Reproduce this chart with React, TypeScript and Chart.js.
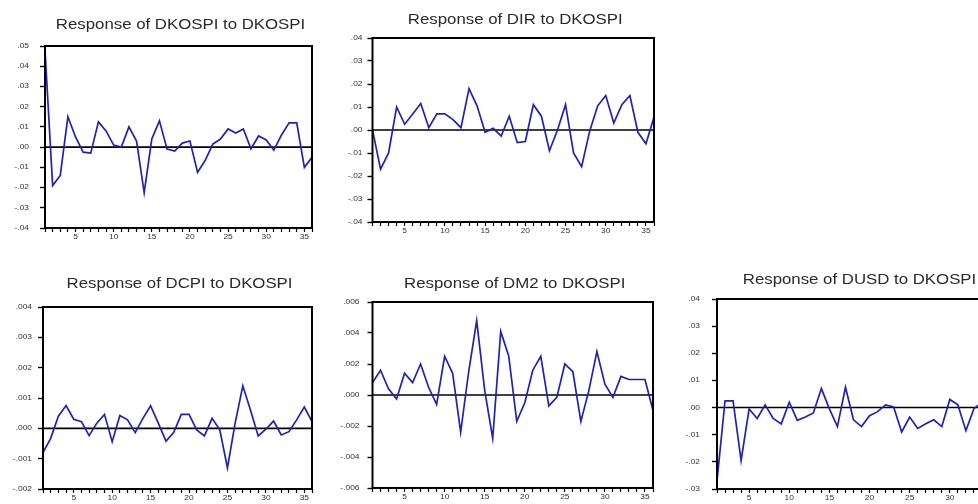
import React, { useEffect, useRef } from 'react';
import { Chart, registerables } from 'chart.js';

Chart.register(...registerables);

// ---- data ----
const periods = [1, 2, 3, 4, 5, 6, 7, 8, 9, 10, 11, 12, 13, 14, 15, 16, 17, 18, 19, 20, 21, 22, 23, 24, 25, 26, 27, 28, 29, 30, 31, 32, 33, 34, 35, 36];
const xLabelTicks = [5, 10, 15, 20, 25, 30, 35];

const dkospi = [0.048, -0.019, -0.014, 0.015, 0.005, -0.0025, -0.003, 0.0125, 0.008, 0.001, 0.0, 0.010, 0.003, -0.0225, 0.004, 0.013, -0.001, -0.002, 0.002, 0.003, -0.0125, -0.0065, 0.0015, 0.004, 0.009, 0.007, 0.009, -0.0008, 0.0055, 0.0035, -0.0015, 0.006, 0.012, 0.012, -0.010, -0.005];
const dir = [0.0, -0.017, -0.010, 0.010, 0.0025, 0.007, 0.0115, 0.001, 0.007, 0.007, 0.0045, 0.001, 0.018, 0.0105, -0.001, 0.0007, -0.0026, 0.006, -0.0055, -0.005, 0.011, 0.006, -0.009, 0.0, 0.011, -0.010, -0.016, -0.0005, 0.0105, 0.015, 0.003, 0.011, 0.015, -0.001, -0.006, 0.0056];
const dcpi = [-0.0008, -0.00033, 0.0004, 0.00075, 0.0003, 0.00022, -0.00024, 0.00017, 0.00046, -0.00044, 0.00042, 0.00028, -0.00014, 0.00033, 0.00074, 0.00017, -0.00042, -0.00014, 0.00046, 0.00046, -0.00005, -0.00025, 0.00033, -0.00005, -0.0013, 0.00017, 0.0014, 0.0006, -0.00025, -0.00003, 0.00024, -0.00022, -0.00011, 0.00028, 0.0007, 0.00022];
const dm2 = [0.0008, 0.0016, 0.0004, -0.00026, 0.0014, 0.0008, 0.002, 0.0005, -0.0006, 0.0025, 0.0014, -0.0024, 0.0015, 0.0048, 0.0003, -0.0028, 0.0041, 0.0025, -0.0017, -0.0005, 0.0016, 0.0025, -0.0007, -0.00015, 0.002, 0.0015, -0.0017, 0.0003, 0.0028, 0.0007, -0.00015, 0.0012, 0.001, 0.001, 0.001, -0.001];
const dusd = [-0.027, 0.0025, 0.0025, -0.0195, -0.0005, -0.004, 0.001, -0.004, -0.006, 0.002, -0.0047, -0.0035, -0.002, 0.007, -0.0005, -0.007, 0.0075, -0.0045, -0.007, -0.003, -0.0015, 0.001, 0.0002, -0.009, -0.0035, -0.0077, -0.006, -0.0045, -0.007, 0.003, 0.001, -0.0085, -0.0004, 0.002, 0.002, 0.001];

const titles = [
  'Response of DKOSPI to DKOSPI',
  'Response of DIR to DKOSPI',
  'Response of DCPI to DKOSPI',
  'Response of DM2 to DKOSPI',
  'Response of DUSD to DKOSPI',
];

// ---- layout (pixels on page) ----
type Panel = {
  title: string;
  values: number[];
  yMin: number;
  yMax: number;
  yStep: number;
  decimals: number;
  L: number;
  T: number;
  R: number;
  B: number;
  titleBase: number;
  yGap: number;
};

const panels: Panel[] = [
  { title: titles[0], values: dkospi, yMin: -0.04, yMax: 0.05, yStep: 0.01, decimals: 2, L: 45, T: 46, R: 312, B: 228, titleBase: 28.5, yGap: 16 },
  { title: titles[1], values: dir, yMin: -0.04, yMax: 0.04, yStep: 0.01, decimals: 2, L: 372.5, T: 38, R: 654, B: 222, titleBase: 23.7, yGap: 10 },
  { title: titles[2], values: dcpi, yMin: -0.002, yMax: 0.004, yStep: 0.001, decimals: 3, L: 43, T: 307, R: 312, B: 489, titleBase: 288, yGap: 11 },
  { title: titles[3], values: dm2, yMin: -0.006, yMax: 0.006, yStep: 0.002, decimals: 3, L: 372.5, T: 302, R: 653, B: 488, titleBase: 288, yGap: 13 },
  { title: titles[4], values: dusd, yMin: -0.03, yMax: 0.04, yStep: 0.01, decimals: 2, L: 717, T: 299, R: 998, B: 489, titleBase: 283.5, yGap: 17 },
];

const AXIS_W = 45;
const XAXIS_H = 18;
const PAD_R = 12;
const FONT = "'Liberation Sans', Arial, sans-serif";

const fmt = (v: number, d: number) => {
  let s = Number(v).toFixed(d);
  if (Math.abs(Number(v)) < 1e-12) s = (0).toFixed(d);
  return s.replace('0.', '.');
};

const framePlugin = {
  id: 'frame',
  beforeDatasetsDraw(chart: any) {
    const { ctx, chartArea: a, scales } = chart;
    const y0 = scales.y.getPixelForValue(0);
    ctx.save();
    ctx.strokeStyle = '#000';
    ctx.lineWidth = 1.6;
    ctx.beginPath();
    ctx.moveTo(a.left, y0);
    ctx.lineTo(a.right, y0);
    ctx.stroke();
    ctx.restore();
  },
  afterDatasetsDraw(chart: any) {
    const { ctx, chartArea: a } = chart;
    ctx.save();
    ctx.strokeStyle = '#000';
    ctx.lineWidth = 2;
    ctx.strokeRect(a.left, a.top, a.right - a.left, a.bottom - a.top);
    ctx.restore();
  },
};

const textPlugin = {
  id: 'panelText',
  afterDraw(chart: any, _args: any, opts: any) {
    const { ctx, chartArea: a, scales } = chart;
    ctx.save();
    // title
    ctx.font = `14px ${FONT}`;
    ctx.fillStyle = '#2a2a2a';
    ctx.textAlign = 'center';
    ctx.textBaseline = 'alphabetic';
    ctx.save();
    ctx.translate(opts.titleX, opts.titleY);
    ctx.scale(1.2, 1);
    ctx.fillText(opts.text, 0, 0);
    ctx.restore();

    // y tick labels
    ctx.font = `7px ${FONT}`;
    ctx.fillStyle = '#333';
    ctx.textAlign = 'right';
    ctx.textBaseline = 'middle';
    for (const t of scales.y.ticks) {
      const y = scales.y.getPixelForValue(t.value);
      ctx.save();
      ctx.translate(a.left - opts.yGap, y);
      ctx.scale(1.2, 1);
      ctx.fillText(fmt(t.value, opts.decimals), 0, 0);
      ctx.restore();
    }
    // x tick labels
    ctx.textAlign = 'center';
    ctx.textBaseline = 'top';
    for (const t of scales.x.ticks) {
      if (!xLabelTicks.includes(Number(t.value))) continue;
      const x = scales.x.getPixelForValue(t.value);
      ctx.save();
      ctx.translate(x, a.bottom + 6);
      ctx.scale(1.2, 1);
      ctx.fillText(String(t.value), 0, 0);
      ctx.restore();
    }
    ctx.restore();
  },
};

function PanelChart({ p }: { p: Panel }) {
  const ref = useRef<HTMLCanvasElement | null>(null);
  const left = Math.floor(p.L - AXIS_W);
  const top = Math.floor(p.titleBase - 14);
  const width = Math.ceil(p.R - left + PAD_R);
  const height = Math.ceil(p.B - top + XAXIS_H);

  useEffect(() => {
    if (!ref.current) return;
    const chart = new Chart(ref.current, {
      type: 'line',
      data: {
        datasets: [
          {
            data: periods.map((x, i) => ({ x, y: p.values[i] })),
            borderColor: '#2222b0',
            borderWidth: 1.7,
            pointRadius: 0,
            tension: 0,
            fill: false,
          },
        ],
      },
      options: {
        animation: false,
        responsive: false,
        devicePixelRatio: 1,
        layout: { padding: { left: 0, top: p.T - top, right: width - (p.R - left), bottom: 0 } },
        plugins: {
          legend: { display: false },
          tooltip: { enabled: false },
          title: { display: false },
          panelText: {
            text: p.title,
            titleX: (p.L + p.R) / 2 + 2 - left,
            titleY: p.titleBase - top,
            yGap: p.yGap,
            decimals: p.decimals,
          },
        } as any,
        scales: {
          x: {
            type: 'linear',
            min: 1,
            max: 36,
            afterFit: (s: any) => {
              s.height = height - (p.B - top);
            },
            ticks: {
              stepSize: 1,
              autoSkip: false,
              maxRotation: 0,
              display: false,
            },
            grid: {
              drawOnChartArea: false,
              drawTicks: true,
              tickLength: 4,
              color: '#000',
              tickWidth: 1.2,
            },
            border: { display: false },
          },
          y: {
            type: 'linear',
            min: p.yMin,
            max: p.yMax,
            afterFit: (s: any) => {
              s.width = p.L - left;
            },
            ticks: {
              stepSize: p.yStep,
              display: false,
            },
            grid: {
              drawOnChartArea: false,
              drawTicks: true,
              tickLength: 5,
              color: '#000',
              tickWidth: 1.4,
            },
            border: { display: false },
          },
        },
      } as any,
      plugins: [framePlugin, textPlugin],
    });
    return () => chart.destroy();
  }, []);

  return (
    <canvas
      ref={ref}
      width={width}
      height={height}
      style={{ position: 'absolute', left, top, width, height }}
    />
  );
}

export default function App() {
  return (
    <div
      style={{
        position: 'fixed',
        left: 0,
        top: 0,
        width: 978,
        height: 504,
        overflow: 'hidden',
        background: '#fff',
      }}
    >
      {panels.map((p, i) => (
        <PanelChart key={i} p={p} />
      ))}
    </div>
  );
}
